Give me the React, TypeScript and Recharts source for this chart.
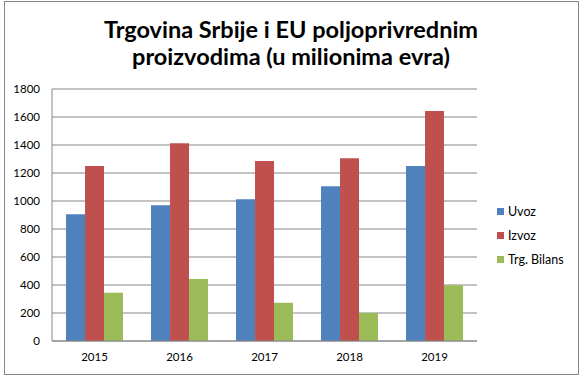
import React from "react";
import { BarChart, Bar, XAxis, YAxis, CartesianGrid } from "recharts";

const years = ["2015", "2016", "2017", "2018", "2019"];
const uvoz = [905, 970, 1012, 1105, 1250];
const izvoz = [1250, 1412, 1285, 1305, 1642];
const bilans = [345, 442, 273, 200, 398];
const yTicks = [0, 200, 400, 600, 800, 1000, 1200, 1400, 1600, 1800];

const seriesNames = ["Uvoz", "Izvoz", "Trg. Bilans"];
const colors = ["#4F81BD", "#C0504D", "#9BBB59"];

const data = years.map((y, i) => ({
  year: y,
  uvoz: uvoz[i],
  izvoz: izvoz[i],
  bilans: bilans[i],
}));

const FONT = "Lato, 'Open Sans', sans-serif";

export default function App() {
  return (
    <div
      style={{
        position: "absolute",
        left: 0,
        top: 0,
        width: 582,
        height: 379,
        background: "#fff",
        fontFamily: FONT,
      }}
    >
      <div
        style={{
          position: "absolute",
          left: 4,
          top: 1,
          width: 573,
          height: 372,
          border: "1px solid #878787",
        }}
      />
      <div
        style={{
          position: "absolute",
          left: 0,
          top: 16,
          width: 582,
          textAlign: "center",
          fontSize: 23.5,
          fontWeight: 700,
          lineHeight: "27px",
          color: "#000",
        }}
      >
        Trgovina Srbije i EU poljoprivrednim
        <br />
        proizvodima (u milionima evra)
      </div>
      <div style={{ position: "absolute", left: 0, top: 0 }}>
        <BarChart
          width={582}
          height={379}
          data={data}
          margin={{ top: 89, right: 105, bottom: 8, left: 0 }}
          barCategoryGap="16.5%"
          barGap={0}
        >
          <CartesianGrid vertical={false} stroke="#878787" strokeWidth={1} />
          <XAxis
            dataKey="year"
            height={30}
            tickLine={false}
            tickSize={0}
            tickMargin={12}
            axisLine={{ stroke: "#878787" }}
            tick={{ fill: "#000", fontSize: 11.5, fontFamily: FONT }}
          />
          <YAxis
            width={52}
            domain={[0, 1800]}
            ticks={yTicks}
            interval={0}
            tickLine={false}
            tickSize={0}
            tickMargin={12}
            axisLine={{ stroke: "#878787" }}
            tick={{ fill: "#000", fontSize: 11.5, fontFamily: FONT }}
          />
          <Bar dataKey="uvoz" name={seriesNames[0]} fill={colors[0]} isAnimationActive={false} />
          <Bar dataKey="izvoz" name={seriesNames[1]} fill={colors[1]} isAnimationActive={false} />
          <Bar dataKey="bilans" name={seriesNames[2]} fill={colors[2]} isAnimationActive={false} />
        </BarChart>
      </div>
      {seriesNames.map((n, i) => (
        <div
          key={n}
          style={{
            position: "absolute",
            left: 497,
            top: 204 + i * 24,
            height: 14,
            display: "flex",
            alignItems: "center",
            fontSize: 12.5,
            color: "#000",
            whiteSpace: "nowrap",
          }}
        >
          <span
            style={{
              display: "inline-block",
              width: 7,
              height: 7,
              background: colors[i],
              marginRight: 4,
            }}
          />
          {n}
        </div>
      ))}
    </div>
  );
}
